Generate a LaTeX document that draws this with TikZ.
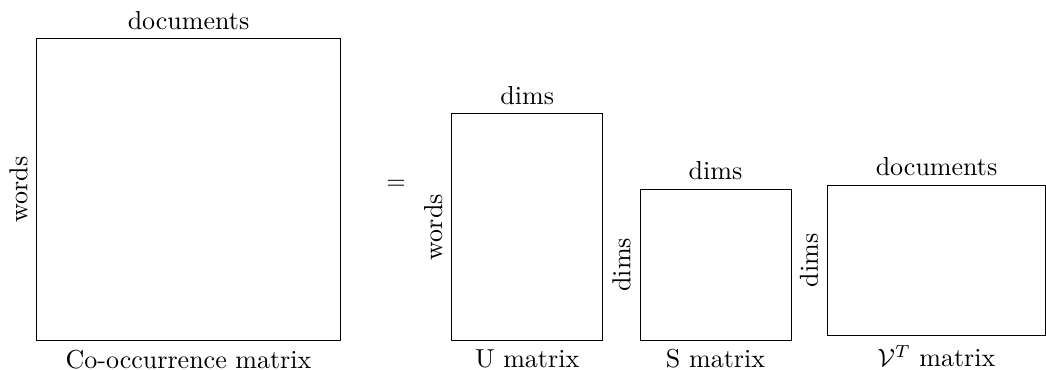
\documentclass[tikz,border=0pt]{standalone}
\begin{document}
\begin{tikzpicture}[x=0.4pt,y=-0.4pt,
  every node/.style={font=\fontsize{10.4}{12.5}\selectfont},
  mat/.style={draw,inner sep=0pt,minimum width=#1},
  toplbl/.style={anchor=south},
  botlbl/.style={anchor=north},
  sidelbl/.style={anchor=south,rotate=90}]
\useasboundingbox (0,0) rectangle (1046,370);
\node[mat=121.2pt,minimum height=120.6pt] (C) at (188.5,189.7) {};
\node[mat=60.4pt,minimum height=90.6pt] (U) at (527.2,227.2) {};
\node[mat=60.4pt,minimum height=60.4pt] (S) at (715.5,264.7) {};
\node[mat=87.2pt,minimum height=60.3pt] (V) at (936.5,260.4) {};
\node[toplbl] (Ct) at (C.north) {documents};
\node[botlbl] (Cb) at (C.south) {Co-occurrence matrix};
\node[sidelbl] (Cl) at (C.west) {words};
\node (eq) at (396,185) {$=$};
\node[toplbl] (Ut) at (U.north) {dims};
\node[botlbl] (Ub) at (U.south) {U matrix};
\node[sidelbl] (Ul) at (U.west) {words};
\node[toplbl] (St) at (S.north) {dims};
\node[botlbl] (Sb) at (S.south) {S matrix};
\node[sidelbl] (Sl) at (S.west) {dims};
\node[toplbl] (Vt) at (V.north) {documents};
\node[botlbl] (Vb) at (V.south) {$\mathcal{V}^T$ matrix};
\node[sidelbl] (Vl) at (V.west) {dims};
\end{tikzpicture}
\end{document}
